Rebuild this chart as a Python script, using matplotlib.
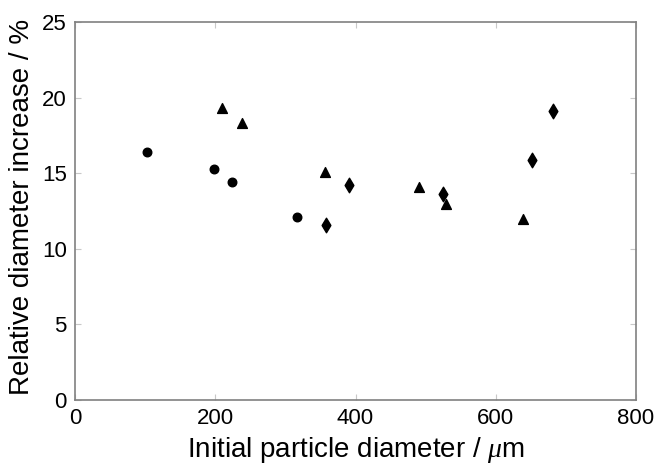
import matplotlib.pyplot as plt

# datos
d_circ = [102, 198, 224, 316]
inc_circ = [16.4, 15.25, 14.45, 12.1]

d_tri = [209, 238, 357, 491, 529, 639]
inc_tri = [19.3, 18.3, 15.05, 14.1, 12.95, 12.0]

d_dia = [358, 391, 525, 652, 682]
inc_dia = [11.55, 14.2, 13.65, 15.85, 19.1]

plt.rcParams['font.family'] = ['Liberation Sans', 'DejaVu Sans']
plt.rcParams['mathtext.fontset'] = 'custom'
plt.rcParams['mathtext.it'] = 'Liberation Serif:italic'

fig = plt.figure(figsize=(6.61, 4.65), dpi=100)
ax = fig.add_axes([75 / 661, 65 / 465, 561 / 661, 378 / 465])

ax.scatter(d_circ, inc_circ, marker='o', s=38, color='black', zorder=3)
ax.scatter(d_tri, inc_tri, marker='^', s=50, color='black', zorder=3)
ax.scatter(d_dia, inc_dia, marker='d', s=55, color='black', zorder=3)

ax.set_xlim(0, 800)
ax.set_ylim(0, 25)
ax.set_xticks([0, 200, 400, 600, 800])
ax.set_yticks([0, 5, 10, 15, 20, 25])

for s in ax.spines.values():
    s.set_color('#808080')
    s.set_linewidth(1.2)
ax.tick_params(direction='in', length=4, color='#c8c8c8', labelsize=16,
               top=True, right=True, pad=6)

ax.set_xlabel(r'Initial particle diameter / $\mu$m', fontsize=20, labelpad=4)
ax.set_ylabel('Relative diameter increase / %', fontsize=20)
ax.yaxis.set_label_coords(-0.072, 0.51)

fig.savefig('out.png', dpi=100)
